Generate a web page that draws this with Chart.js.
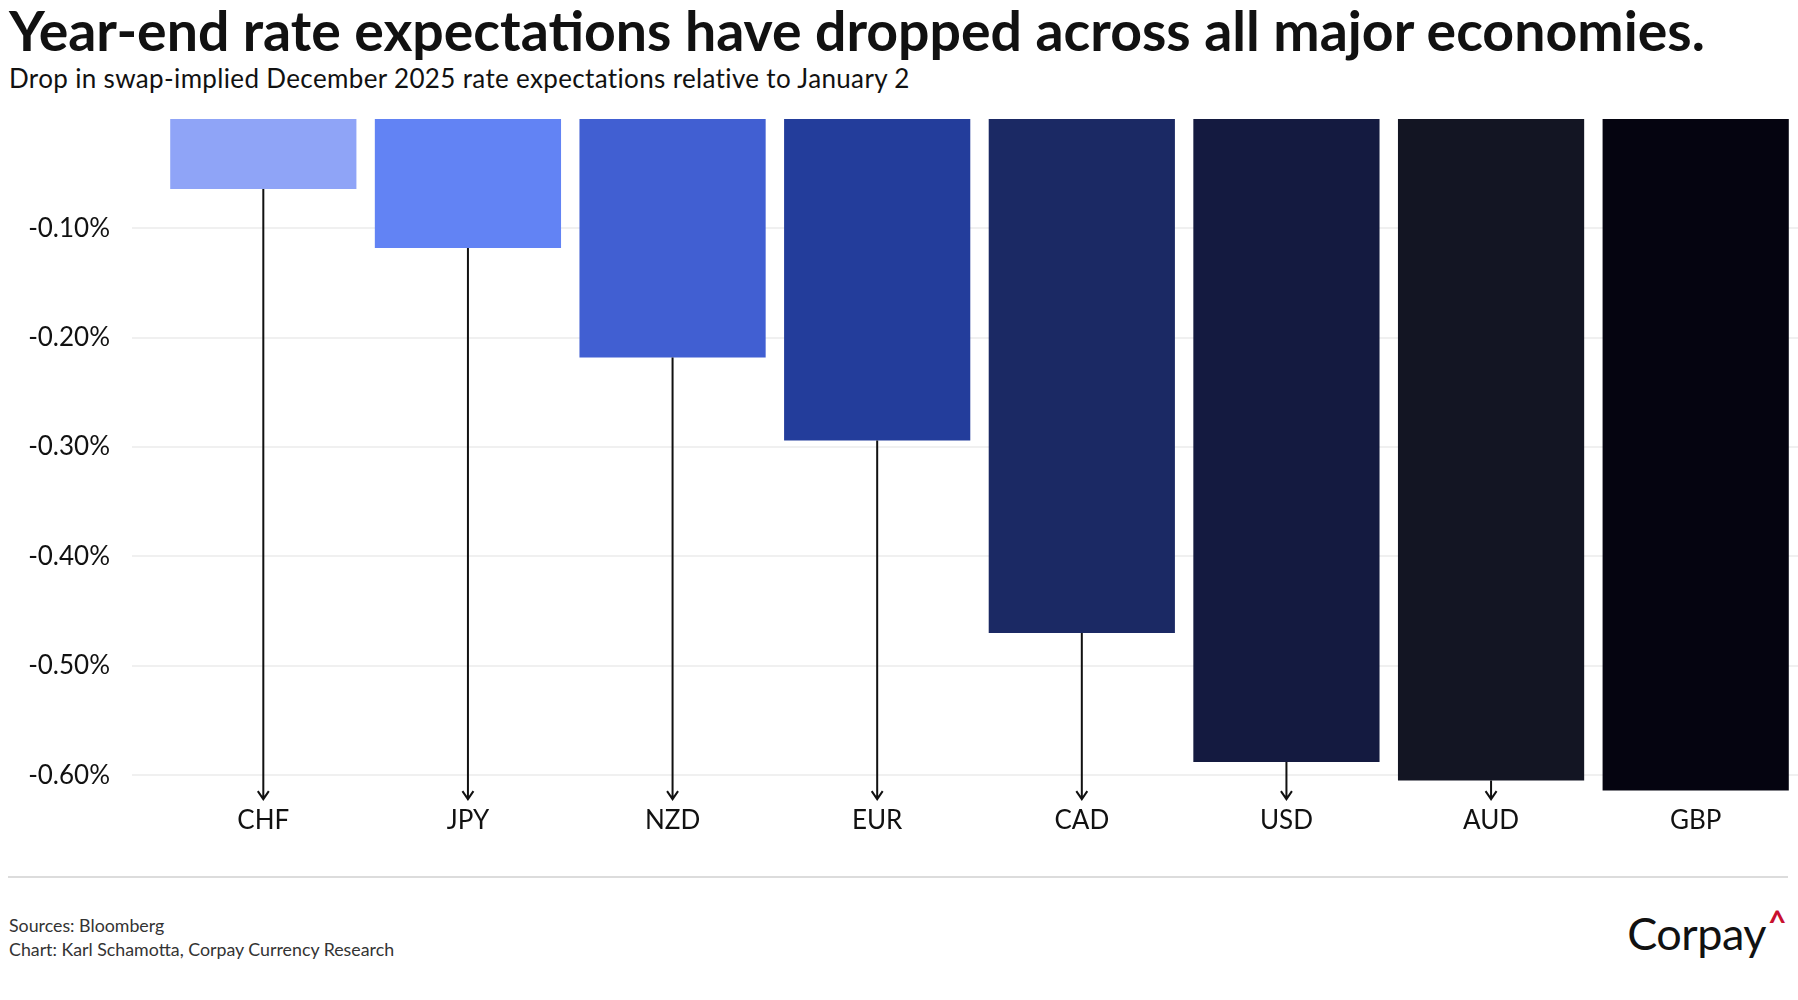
<!DOCTYPE html>
<html>
<head>
<meta charset="utf-8">
<script src="https://cdn.jsdelivr.net/npm/chart.js@4.4.1/dist/chart.umd.min.js"></script>
<style>
    body { margin: 0; background: #fff; font-family: "Lato", sans-serif; }
    #page { position: relative; width: 1798px; height: 1000px; overflow: hidden; }
    .txt { position: absolute; line-height: 1; white-space: nowrap; color: #111; }
    #title { left: 9px; top: 2px; font-size: 55.4px; font-weight: 700; }
    #subtitle { left: 9px; top: 65px; font-size: 26px; letter-spacing: 0.35px; }
    #chartWrap { position: absolute; left: 0; top: 0; width: 1798px; height: 870px; }
    #rule { position: absolute; left: 8px; top: 876px; width: 1780px; height: 2px; background: #dcdcdc; }
    .foot { font-size: 17.8px; color: #333; left: 9px; }
    #logo { right: 12px; top: 911px; font-size: 45px; color: #111; letter-spacing: -0.5px; }
    #logo span { color: #c8102e; font-weight: 700; font-size: 32px; position: relative; top: -16px; margin-left: 2px; }
</style>
</head>
<body>
<div id="page">
    <div class="txt" id="title">Year-end rate expectations have dropped across all major economies.</div>
    <div class="txt" id="subtitle">Drop in swap-implied December 2025 rate expectations relative to January 2</div>
    <div id="chartWrap"><canvas id="rateChart" width="1798" height="870"></canvas></div>
    <div id="rule"></div>
    <div class="txt foot" style="top: 917px;">Sources: Bloomberg</div>
    <div class="txt foot" style="top: 941px;">Chart: Karl Schamotta, Corpay Currency Research</div>
    <div class="txt" id="logo">Corpay<span>^</span></div>
</div>
<script>
// Data
const currencies = ['CHF', 'JPY', 'NZD', 'EUR', 'CAD', 'USD', 'AUD', 'GBP'];
const rateDrop = [-0.064, -0.118, -0.218, -0.294, -0.470, -0.588, -0.605, -0.614];
const barColors = ['#8fa4f7', '#6283f4', '#415fd2', '#233d9b', '#1b2964', '#141a40', '#131523', '#050410'];
const yTicks = [-0.1, -0.2, -0.3, -0.4, -0.5, -0.6];
const arrowTip = -0.622;

// Arrows from each bar down to its label
const arrowPlugin = {
    id: 'arrows',
    afterDatasetsDraw(chart) {
        const ctx = chart.ctx;
        const yScale = chart.scales.y;
        const tipY = yScale.getPixelForValue(arrowTip);
        chart.getDatasetMeta(0).data.forEach(bar => {
            if (tipY - bar.y < 14) return;
            ctx.save();
            ctx.strokeStyle = '#111';
            ctx.lineWidth = 2;
            ctx.beginPath();
            ctx.moveTo(bar.x, bar.y);
            ctx.lineTo(bar.x, tipY);
            ctx.moveTo(bar.x - 5.5, tipY - 8);
            ctx.lineTo(bar.x, tipY);
            ctx.lineTo(bar.x + 5.5, tipY - 8);
            ctx.stroke();
            ctx.restore();
        });
    }
};

const ctx = document.getElementById('rateChart').getContext('2d');
new Chart(ctx, {
    type: 'bar',
    data: {
        labels: currencies,
        datasets: [{
            data: rateDrop,
            backgroundColor: barColors,
            borderWidth: 0,
            barPercentage: 0.91,
            categoryPercentage: 1
        }]
    },
    options: {
        responsive: false,
        animation: false,
        devicePixelRatio: 1,
        layout: { padding: { top: 119, left: 0, right: 0, bottom: 0 } },
        plugins: { legend: { display: false }, tooltip: { enabled: false } },
        scales: {
            x: {
                grid: { display: false, drawTicks: false },
                border: { display: false },
                ticks: { color: '#111', padding: 8, font: { family: 'Lato', size: 26 } },
                afterFit: scale => { scale.height = 73; }
            },
            y: {
                min: -0.62,
                max: 0,
                afterBuildTicks: scale => { scale.ticks = yTicks.map(v => ({ value: v })); },
                grid: { color: '#f0f0f0', lineWidth: 2, tickLength: 29 },
                border: { display: false },
                ticks: {
                    color: '#111',
                    padding: 22,
                    font: { family: 'Lato', size: 26 },
                    callback: v => v.toFixed(2) + '%'
                },
                afterFit: scale => { scale.width = 161; }
            }
        }
    },
    plugins: [arrowPlugin]
});
</script>
</body>
</html>
